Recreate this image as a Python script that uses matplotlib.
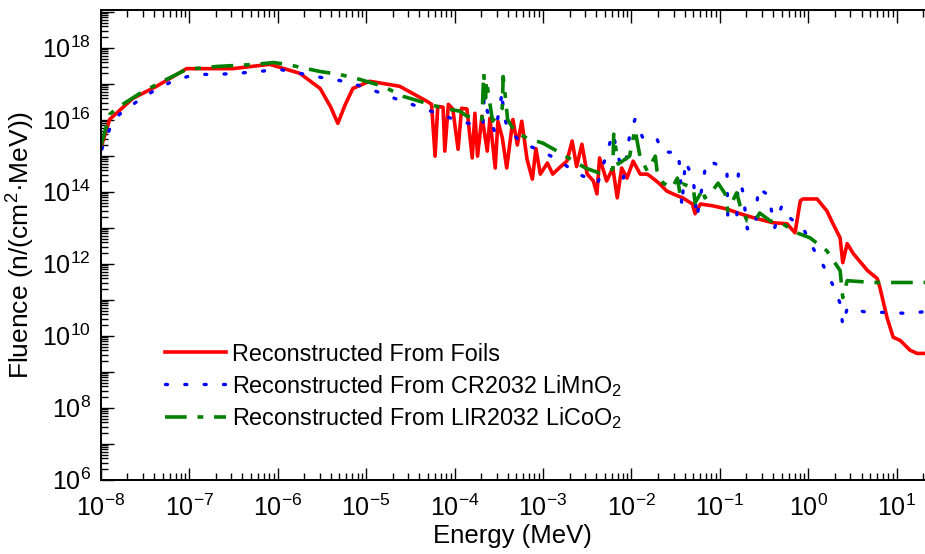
import numpy as np
import matplotlib
matplotlib.use("Agg")
import matplotlib.pyplot as plt
from matplotlib.ticker import LogLocator, FuncFormatter, NullFormatter

plt.rcParams['font.family'] = ['Liberation Sans', 'DejaVu Sans']
plt.rcParams['mathtext.fontset'] = 'custom'
plt.rcParams['mathtext.rm'] = 'Liberation Sans'
plt.rcParams['mathtext.it'] = 'Liberation Sans'
plt.rcParams['mathtext.default'] = 'regular'

# log10(energy / MeV) and log10(fluence)
foils_logE = [-8.0, -7.90, -7.64, -7.37, -7.03, -6.51, -6.09, -5.75, -5.52, -5.40, -5.32, -5.24,
              -5.15, -4.96, -4.62, -4.31, -4.26, -4.22, -4.19, -4.13, -4.11, -4.07, -4.02, -3.96,
              -3.92, -3.86, -3.80, -3.77, -3.74, -3.69, -3.63, -3.60, -3.54, -3.51, -3.46, -3.41,
              -3.34, -3.29, -3.24, -3.18, -3.12, -3.08, -3.03, -2.95, -2.89, -2.80, -2.73, -2.67,
              -2.62, -2.56, -2.50, -2.43, -2.39, -2.36, -2.28, -2.21, -2.16, -2.11, -2.05, -1.98,
              -1.90, -1.82, -1.76, -1.68, -1.60, -1.53, -1.42, -1.31, -1.28, -1.22, -1.08, -0.92,
              -0.77, -0.62, -0.40, -0.24, -0.15, -0.09, -0.06, 0.10, 0.21, 0.28, 0.36, 0.39,
              0.44, 0.51, 0.67, 0.78, 0.81, 0.89, 0.96, 1.04, 1.15, 1.23, 1.32]
foils_logF = [15.21, 16.01, 16.59, 16.93, 17.42, 17.42, 17.54, 17.29, 16.87, 16.35, 15.90, 16.40,
              16.87, 17.07, 16.93, 16.51, 16.43, 14.99, 16.37, 16.35, 15.13, 16.43, 16.30, 15.18,
              16.32, 16.30, 14.94, 16.18, 14.99, 16.10, 15.13, 16.04, 14.66, 15.96, 15.50, 14.66,
              16.01, 15.30, 15.96, 14.90, 14.35, 15.20, 14.49, 14.80, 14.49, 14.70, 14.85, 15.41,
              14.70, 15.32, 14.49, 14.30, 13.94, 14.94, 14.30, 14.66, 13.83, 14.66, 14.38, 14.85,
              14.49, 14.49, 14.38, 14.22, 14.02, 13.94, 13.83, 13.66, 13.39, 13.66, 13.61, 13.52,
              13.39, 13.28, 13.14, 13.11, 12.86, 13.75, 13.80, 13.80, 13.47, 13.11, 12.72, 12.03,
              12.56, 12.28, 11.81, 11.59, 11.34, 10.51, 9.96, 9.87, 9.60, 9.51, 9.51]

cr2032_logE = [-7.99, -7.90, -7.79, -7.59, -7.41, -7.19, -6.94, -6.69, -6.46, -6.22, -5.98, -5.75,
               -5.52, -5.30, -5.05, -4.82, -4.62, -4.39, -4.17, -3.94, -3.71, -3.68, -3.66, -3.63,
               -3.54, -3.46, -3.45, -3.40, -3.24, -3.01, -2.81, -2.62, -2.38, -2.21, -2.13, -2.09,
               -2.02, -1.96, -1.87, -1.72, -1.65, -1.54, -1.47, -1.45, -1.43, -1.39, -1.30, -1.28,
               -1.26, -1.17, -1.14, -1.09, -0.92, -0.91, -0.81, -0.79, -0.74, -0.69, -0.60, -0.58,
               -0.57, -0.47, -0.43, -0.38, -0.30, -0.24, -0.06, 0.05, 0.17, 0.27, 0.36, 0.39,
               0.44, 0.67, 0.89, 1.12, 1.32]
cr2032_logF = [15.18, 15.74, 16.15, 16.51, 16.79, 17.07, 17.26, 17.26, 17.29, 17.34, 17.40, 17.29,
               17.18, 17.09, 16.93, 16.73, 16.54, 16.35, 16.15, 15.96, 15.82, 15.85, 16.90, 16.24,
               15.63, 16.79, 16.18, 15.76, 15.35, 15.13, 14.85, 14.52, 14.24, 15.63, 14.80, 14.38,
               15.57, 16.01, 15.49, 15.52, 15.10, 15.10, 15.10, 14.58, 13.60, 14.85, 14.35, 13.80,
               13.28, 14.58, 14.85, 14.82, 14.63, 13.33, 13.19, 14.52, 14.00, 12.97, 12.97, 13.52,
               14.11, 13.94, 13.66, 13.00, 13.61, 13.33, 13.00, 12.45, 11.95, 11.45, 10.90, 10.29,
               10.76, 10.65, 10.65, 10.62, 10.67]

lir2032_logE = [-8.0, -7.90, -7.79, -7.56, -7.30, -7.03, -6.69, -6.24, -6.05, -5.90, -5.52, -5.30,
                -5.07, -4.81, -4.58, -4.28, -4.13, -3.94, -3.86, -3.69, -3.67, -3.65, -3.64, -3.57,
                -3.46, -3.45, -3.42, -3.40, -3.32, -3.18, -3.00, -2.84, -2.69, -2.52, -2.36, -2.21,
                -2.20, -2.15, -2.02, -1.96, -1.90, -1.82, -1.73, -1.71, -1.64, -1.54, -1.48, -1.45,
                -1.42, -1.30, -1.28, -1.19, -1.17, -1.11, -1.02, -0.94, -0.91, -0.81, -0.77, -0.69,
                -0.60, -0.55, -0.43, -0.29, -0.13, 0.02, 0.21, 0.36, 0.39, 0.44, 0.73, 1.32]
lir2032_logF = [15.27, 16.15, 16.37, 16.73, 17.07, 17.40, 17.48, 17.54, 17.59, 17.54, 17.34, 17.26,
                17.12, 16.93, 16.65, 16.43, 16.32, 16.24, 16.10, 16.01, 17.30, 16.60, 17.10, 15.96,
                16.32, 17.20, 16.51, 16.01, 15.68, 15.49, 15.35, 15.13, 14.91, 14.66, 14.52, 14.63,
                15.60, 14.77, 14.99, 15.74, 14.94, 14.58, 14.99, 14.58, 14.24, 14.11, 14.38, 13.94,
                14.22, 14.11, 13.69, 14.08, 13.83, 13.94, 14.24, 13.94, 13.47, 13.97, 13.61, 13.19,
                13.19, 13.41, 13.19, 13.11, 12.86, 12.72, 12.36, 11.81, 11.06, 11.53, 11.48, 11.48]

fig = plt.figure(figsize=(9.25, 5.54), dpi=100)
ax = fig.add_axes([0.109, 0.134, 0.891, 0.848])

ax.plot(10 ** np.array(foils_logE), 10 ** np.array(foils_logF), color='#ff0000', lw=2.6,
        label='Reconstructed From Foils')
ax.plot(10 ** np.array(cr2032_logE), 10 ** np.array(cr2032_logF), color='#0000ff', lw=2.4,
        linestyle=(0, (0.6, 5.2)), dash_capstyle='round',
        label='Reconstructed From CR2032 LiMnO$_2$')
ax.plot(10 ** np.array(lir2032_logE), 10 ** np.array(lir2032_logF), color='#008000', lw=2.6,
        linestyle=(0, (6.0, 3.0, 1.6, 3.0)),
        label='Reconstructed From LIR2032 LiCoO$_2$')

ax.set_xscale('log')
ax.set_yscale('log')
ax.set_xlim(1e-8, 10 ** 1.32)
ax.set_ylim(1e6, 10 ** 19.05)

ax.xaxis.set_major_locator(LogLocator(base=10, numticks=20))
ax.xaxis.set_minor_locator(LogLocator(base=10, subs=np.arange(2, 10), numticks=20))
ax.xaxis.set_minor_formatter(NullFormatter())
ax.yaxis.set_major_locator(LogLocator(base=10, numticks=20))
ax.yaxis.set_minor_locator(LogLocator(base=10, subs=np.arange(2, 10), numticks=20))
ax.yaxis.set_minor_formatter(NullFormatter())


def even_decades(v, pos):
    e = int(round(np.log10(v)))
    if e % 2:
        return ''
    return '$10^{%d}$' % e


ax.yaxis.set_major_formatter(FuncFormatter(even_decades))
ax.xaxis.set_major_formatter(FuncFormatter(lambda v, pos: '$10^{%d}$' % int(round(np.log10(v)))))

ax.tick_params(which='both', direction='in', top=True, right=False, width=1.0, labelsize=18)
ax.tick_params(which='major', length=9, pad=7)
ax.tick_params(axis='x', which='major', pad=11)
ax.tick_params(which='minor', length=5)
for side in ['left', 'bottom', 'top']:
    ax.spines[side].set_linewidth(1.4)
ax.spines['right'].set_visible(False)

ax.set_xlabel('Energy (MeV)', fontsize=18.5, labelpad=2)
ax.set_ylabel('Fluence (n/(cm$^2$·MeV))', fontsize=19, labelpad=4)

ax.legend(loc='lower left', bbox_to_anchor=(0.067, 0.083), frameon=False, fontsize=16.8,
          handlelength=2.6, handletextpad=0.25, labelspacing=0.3, borderaxespad=0)

fig.savefig('out.png', dpi=100)
